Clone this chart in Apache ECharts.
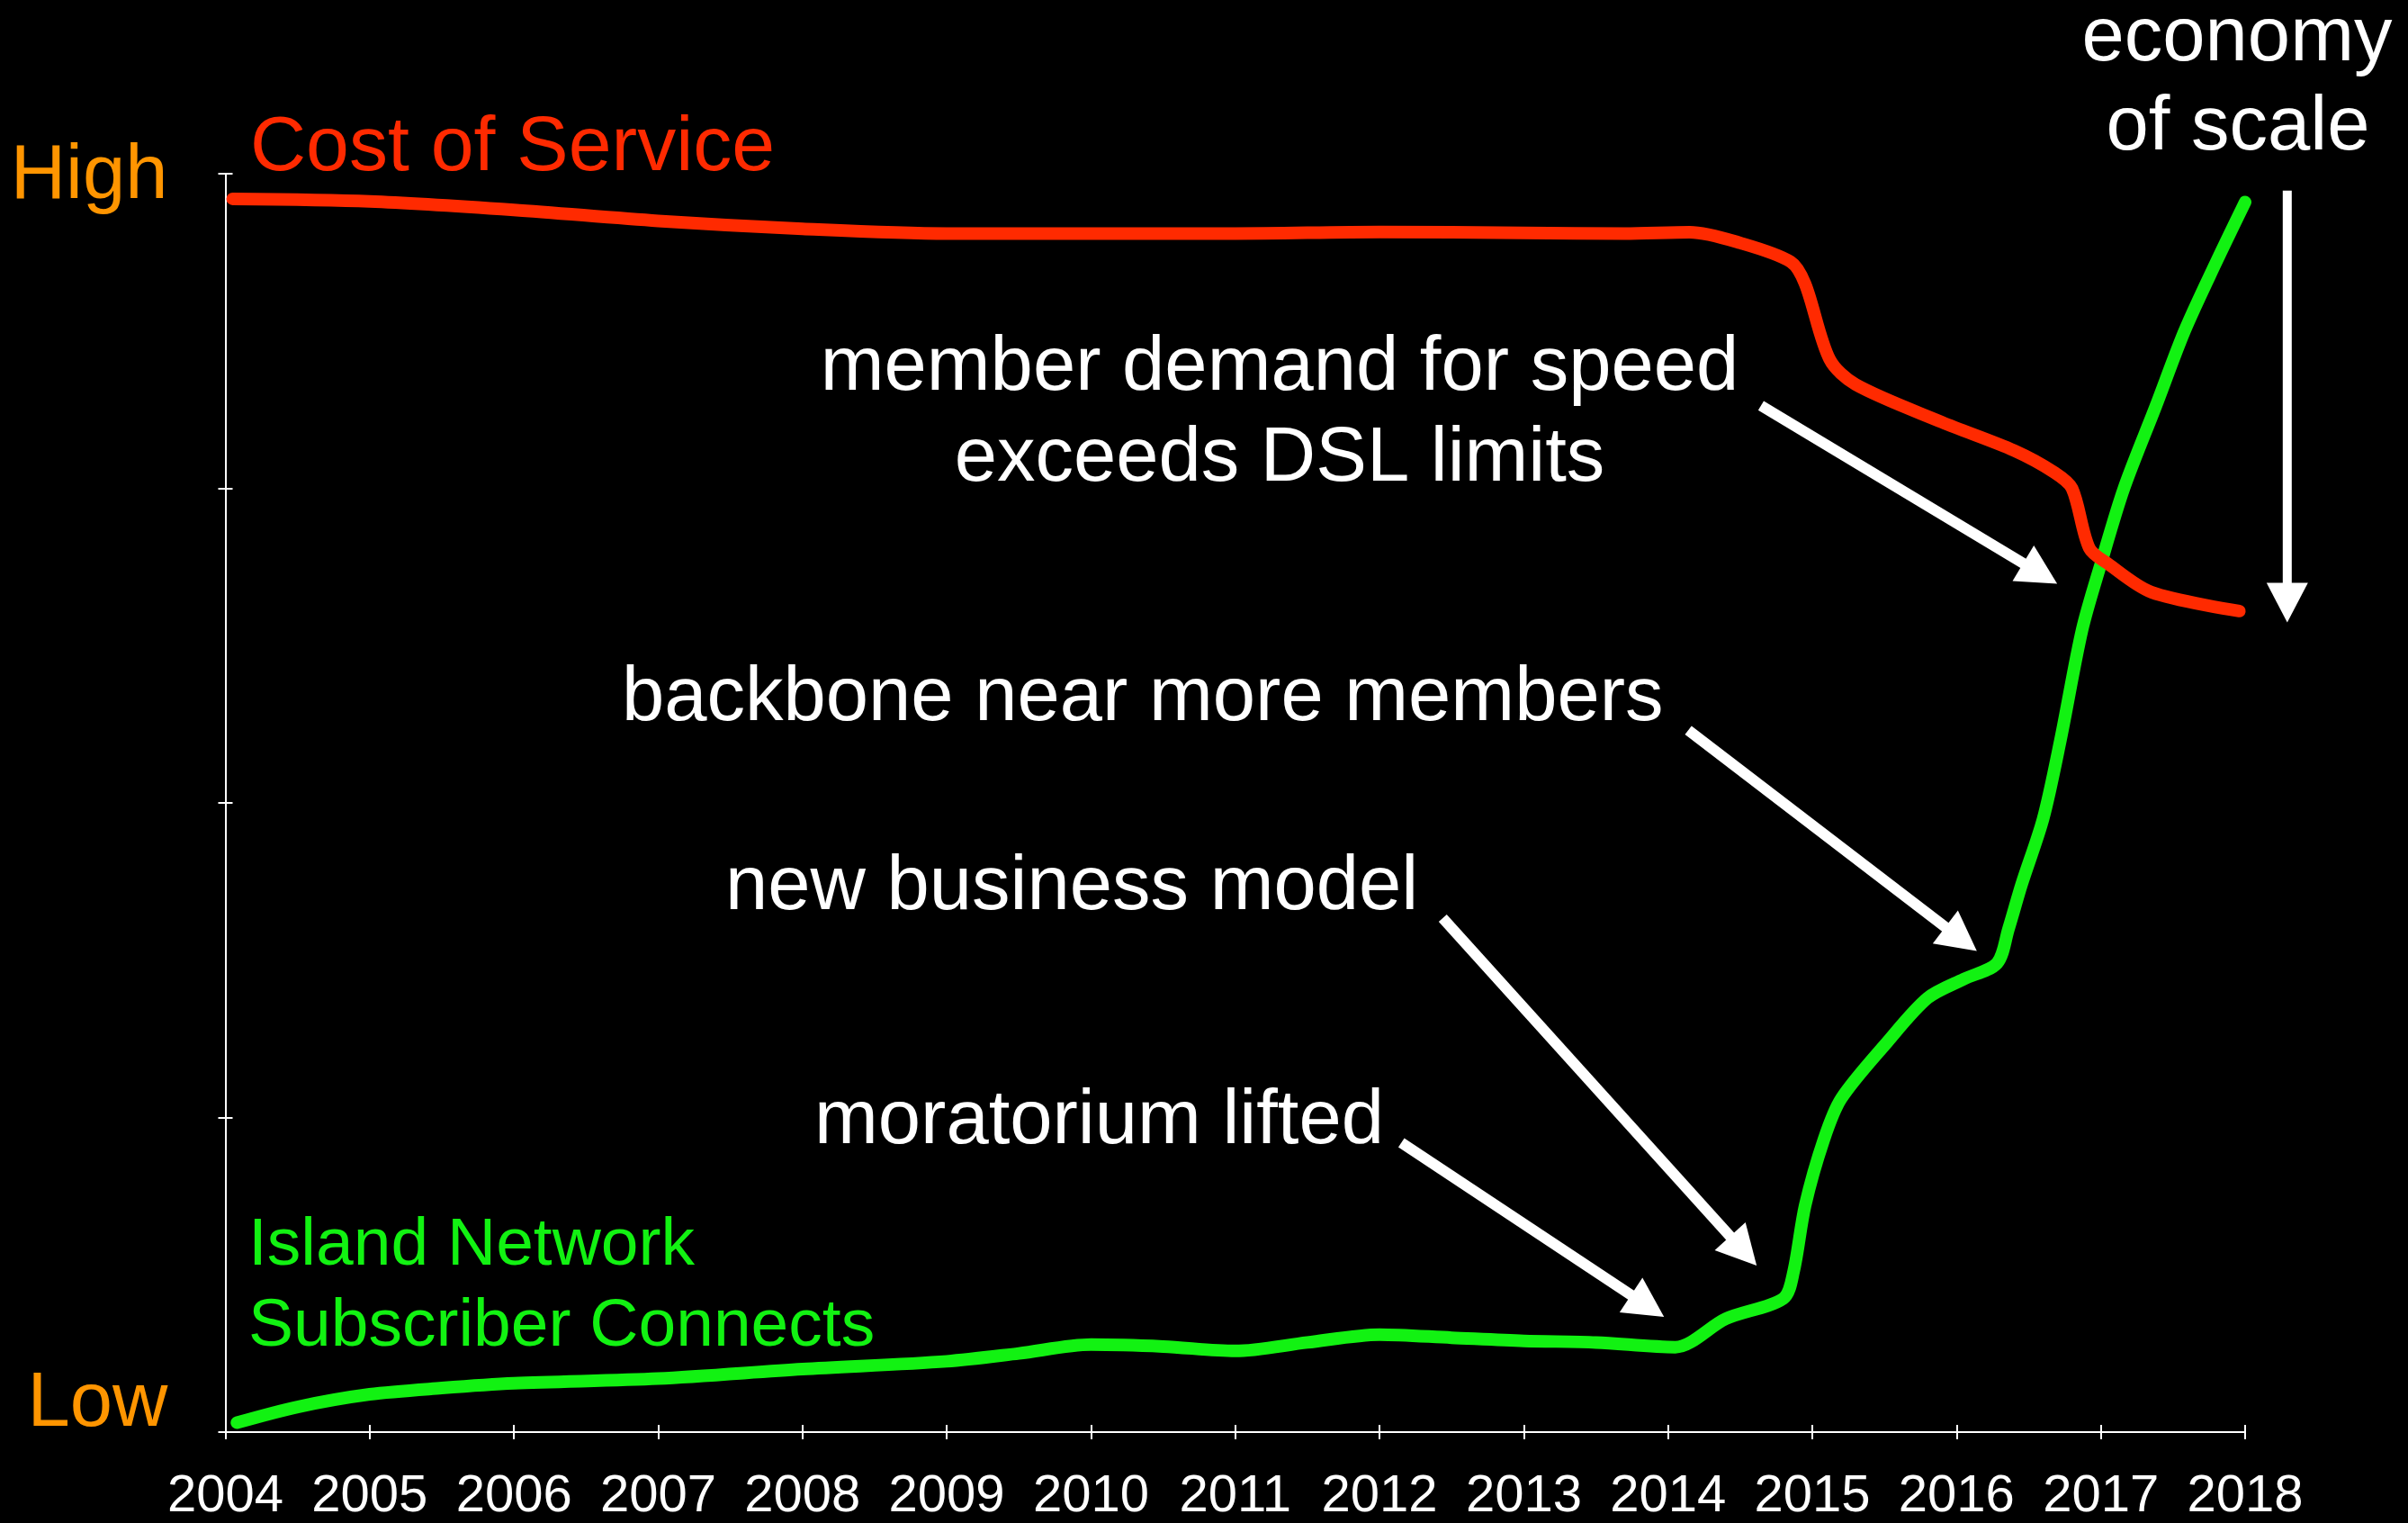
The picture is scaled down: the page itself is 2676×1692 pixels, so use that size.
<!DOCTYPE html>
<html>
<head>
<meta charset="utf-8">
<script src="https://cdn.jsdelivr.net/npm/echarts@6/dist/echarts.min.js"></script>
<style>
html,body{margin:0;padding:0;background:#000;}
#chart{width:2676px;height:1692px;}
</style>
</head>
<body>
<div id="chart"></div>
<script>
// ---- data ----
var yearTicks = ['2004','2005','2006','2007','2008','2009','2010','2011','2012','2013','2014','2015','2016','2017','2018'];
var levelLabels = ['Low', '', '', '', 'High'];

var costYears  = [2004.05, 2005, 2006, 2007, 2008, 2009, 2010, 2011, 2012, 2013, 2013.7, 2014.15, 2014.5, 2014.85, 2014.95, 2015.12, 2015.3, 2015.9, 2016.4, 2016.68, 2016.8, 2016.92, 2017.05, 2017.35, 2017.96];
var costValues = [3.92, 3.912, 3.885, 3.85, 3.825, 3.81, 3.81, 3.81, 3.815, 3.812, 3.81, 3.814, 3.78, 3.72, 3.65, 3.41, 3.33, 3.21, 3.12, 3.05, 3.0, 2.81, 2.76, 2.67, 2.61];

var subYears  = [2004.08, 2004.5, 2005, 2005.5, 2006, 2007, 2008, 2009, 2009.5, 2010, 2010.5, 2011, 2011.5, 2012, 2012.5, 2013, 2013.5, 2014.05, 2014.4, 2014.8, 2014.87, 2014.95, 2015.08, 2015.2, 2015.52, 2015.8, 2016.05, 2016.28, 2016.36, 2016.45, 2016.6, 2016.72, 2016.87, 2017.0, 2017.16, 2017.38, 2017.58, 2017.79, 2018.0];
var subValues = [0.03, 0.08, 0.12, 0.14, 0.155, 0.17, 0.2, 0.225, 0.25, 0.278, 0.272, 0.258, 0.285, 0.31, 0.3, 0.29, 0.285, 0.27, 0.36, 0.425, 0.51, 0.72, 0.93, 1.06, 1.24, 1.38, 1.44, 1.49, 1.6, 1.74, 1.95, 2.2, 2.55, 2.76, 3.0, 3.26, 3.5, 3.71, 3.91];

// annotation arrows: [startYear, startValue, tipYear, tipValue]
var arrowSpeed    = [2014.644, 3.263, 2016.697, 2.697];
var arrowBackbone = [2014.14, 2.231, 2016.14, 1.529];
var arrowBusiness = [2012.438, 1.634, 2014.614, 0.529];
var arrowMorat    = [2012.151, 0.92, 2013.972, 0.366];
var arrowScale    = [2018.292, 3.946, 2018.292, 2.574];

function pairs(xs, ys) { return xs.map(function (x, i) { return [x, ys[i]]; }); }

var RED = '#ff2a00', GREEN = '#12f212', ORANGE = '#ff9500', WHITE = '#ffffff';
var FONT = '"Liberation Sans", Arial, Helvetica, sans-serif';

var chart = echarts.init(document.getElementById('chart'));

var axisCommonX = { type: 'value', min: 2004, max: 2018, interval: 1, gridIndex: 0, position: 'bottom' };
var axisCommonY = { type: 'value', min: 0, max: 4, interval: 1, gridIndex: 0, position: 'left' };

chart.setOption({
  backgroundColor: '#000',
  animation: false,
  grid: { left: 250.5, right: 181, top: 193, bottom: 100, containLabel: false },
  xAxis: [
    Object.assign({}, axisCommonX, {
      axisLine: { show: true, lineStyle: { color: WHITE, width: 2 } },
      axisTick: { show: true, inside: false, length: 8, lineStyle: { color: WHITE, width: 2 } },
      splitLine: { show: false },
      axisLabel: {
        color: WHITE, fontSize: 58, fontFamily: FONT, margin: 43,
        formatter: function (v) { return yearTicks[Math.round(v - 2004)] || ''; }
      }
    }),
    Object.assign({}, axisCommonX, {
      axisLine: { show: false },
      axisTick: { show: true, inside: true, length: 8, lineStyle: { color: WHITE, width: 2 } },
      splitLine: { show: false },
      axisLabel: { show: false }
    })
  ],
  yAxis: [
    Object.assign({}, axisCommonY, {
      axisLine: { show: true, lineStyle: { color: WHITE, width: 2 } },
      axisTick: { show: true, inside: false, length: 8, lineStyle: { color: WHITE, width: 2 } },
      splitLine: { show: false },
      axisLabel: {
        margin: 64,
        formatter: function (v) {
          var t = levelLabels[Math.round(v)] || '';
          if (!t) return '';
          return v === 0 ? '{low|' + t + '}' : '{high|' + t + '}';
        },
        rich: {
          high: { color: ORANGE, fontSize: 85, fontFamily: FONT, padding: [8, 0, 0, 0] },
          low:  { color: ORANGE, fontSize: 85, fontFamily: FONT, padding: [0, 0, 60, 0] }
        }
      }
    }),
    Object.assign({}, axisCommonY, {
      axisLine: { show: false },
      axisTick: { show: true, inside: true, length: 8, lineStyle: { color: WHITE, width: 2 } },
      splitLine: { show: false },
      axisLabel: { show: false }
    })
  ],
  series: [
    {
      name: 'Island Network Subscriber Connects', type: 'line', xAxisIndex: 0, yAxisIndex: 0,
      data: pairs(subYears, subValues), showSymbol: false, smooth: 0.3,
      lineStyle: { color: GREEN, width: 14, cap: 'round', join: 'round' }, z: 3
    },
    {
      name: 'Cost of Service', type: 'line', xAxisIndex: 0, yAxisIndex: 0,
      data: pairs(costYears, costValues), showSymbol: false, smooth: 0.3,
      lineStyle: { color: RED, width: 14, cap: 'round', join: 'round' }, z: 4
    }
  ]
});

function textEl(text, x, y, size, color, align) {
  return {
    type: 'text', x: x, y: y, z: 10,
    style: { text: text, fill: color, font: size + 'px ' + FONT, textAlign: align || 'left', textVerticalAlign: 'middle' }
  };
}

function arrowEls(a, shaftW, headL, headW) {
  var p0 = chart.convertToPixel({ gridIndex: 0 }, [a[0], a[1]]);
  var p1 = chart.convertToPixel({ gridIndex: 0 }, [a[2], a[3]]);
  var dx = p1[0] - p0[0], dy = p1[1] - p0[1];
  var len = Math.sqrt(dx * dx + dy * dy);
  var ux = dx / len, uy = dy / len;
  var px = -uy, py = ux;
  var bx = p1[0] - ux * headL, by = p1[1] - uy * headL;
  var sx = p1[0] - ux * headL * 0.7, sy = p1[1] - uy * headL * 0.7;
  return [
    { type: 'line', z: 9, shape: { x1: p0[0], y1: p0[1], x2: sx, y2: sy }, style: { stroke: WHITE, lineWidth: shaftW } },
    { type: 'polygon', z: 9, shape: { points: [[p1[0], p1[1]], [bx + px * headW / 2, by + py * headW / 2], [bx - px * headW / 2, by - py * headW / 2]] }, style: { fill: WHITE } }
  ];
}

var g = [];
g.push(textEl('Cost of Service', 278, 165, 86, RED));
g.push(textEl('Island Network', 276, 1384, 75, GREEN));
g.push(textEl('Subscriber Connects', 276, 1474, 75, GREEN));
g.push(textEl('member demand for speed', 1422, 410, 85, WHITE, 'center'));
g.push(textEl('exceeds DSL limits', 1422, 511, 85, WHITE, 'center'));
g.push(textEl('backbone near more members', 691, 777, 85, WHITE));
g.push(textEl('new business model', 806, 987, 85, WHITE));
g.push(textEl('moratorium lifted', 905, 1247, 85, WHITE));
g.push(textEl('economy', 2486, 44, 85, WHITE, 'center'));
g.push(textEl('of scale', 2487, 143, 85, WHITE, 'center'));
g = g.concat(arrowEls(arrowSpeed, 12, 44, 46));
g = g.concat(arrowEls(arrowBackbone, 12, 44, 46));
g = g.concat(arrowEls(arrowBusiness, 12, 44, 46));
g = g.concat(arrowEls(arrowMorat, 12, 44, 46));
g = g.concat(arrowEls(arrowScale, 10, 44, 46));

chart.setOption({ graphic: g });
</script>
</body>
</html>
